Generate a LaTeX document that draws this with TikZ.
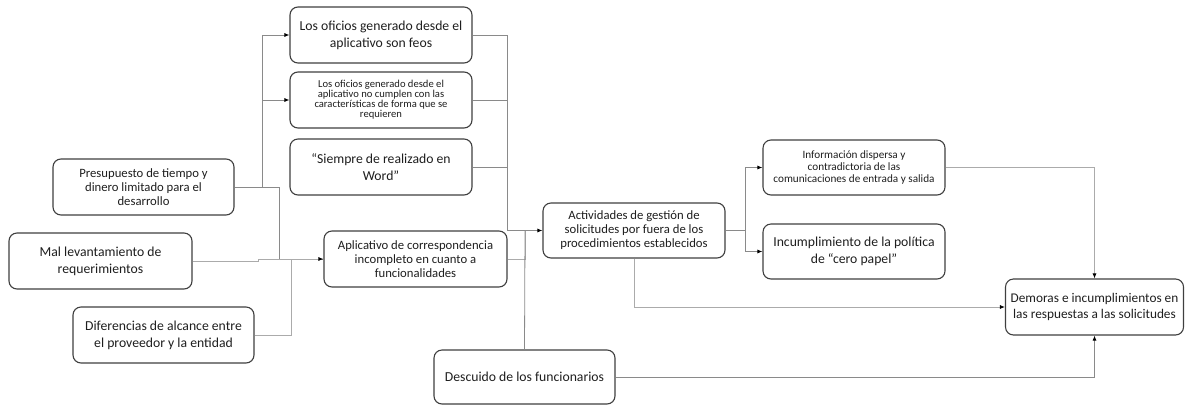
\documentclass[tikz,border=0pt]{standalone}
\usepackage{fontspec}
\setmainfont{Carlito}
\usetikzlibrary{arrows.meta,calc}
\definecolor{boxc}{HTML}{3F3F3F}
\definecolor{linec}{HTML}{8A8A8A}
\definecolor{linel}{HTML}{ABABAB}
\definecolor{txt}{HTML}{1E1E1E}
\tikzset{
  box/.style={draw=boxc, rounded corners=8pt, line width=1.1pt, minimum width=182pt,
    minimum height=56pt, inner sep=0pt, align=center, text=txt},
  big/.style={font=\fontsize{13.7}{17}\selectfont},
  mid/.style={font=\fontsize{12.7}{14}\selectfont},
  conn/.style={draw=linec, line width=0.8pt},
  connl/.style={draw=linel, line width=0.8pt},
  arr/.style={-{Latex[length=5pt,width=4pt,color=black]}},
}
\begin{document}
\begin{tikzpicture}[x=1pt,y=-1pt]
\useasboundingbox (0,0) rectangle (1185,405);
% nodes
\node[box,big] (A) at (381,35) {Los oficios generado desde el\\aplicativo son feos};
\node[box,font=\fontsize{10.6}{10}\selectfont] (B) at (381,100) {Los oficios generado desde el\\aplicativo no cumplen con las\\características de forma que se\\requieren};
\node[box,big] (C) at (381,167) {“Siempre de realizado en\\Word”};
\node[box,mid,minimum width=181pt] (P) at (143.5,187) {Presupuesto de tiempo y\\dinero limitado para el\\desarrollo};
\node[box,big,minimum width=183pt] (M) at (100.5,261) {Mal levantamiento de\\requerimientos};
\node[box,big,minimum width=181pt] (D) at (163.5,335) {Diferencias de alcance entre\\el proveedor y la entidad};
\node[box,mid,minimum width=183pt] (Ap) at (415.5,259) {Aplicativo de correspondencia\\incompleto en cuanto a\\funcionalidades};
\node[box,mid,minimum height=55pt] (Act) at (634,230.5) {Actividades de gestión de\\solicitudes por fuera de los\\procedimientos establecidos};
\node[box,big,minimum width=181pt,minimum height=54pt] (Desc) at (524.5,377) {Descuido de los funcionarios};
\node[box,font=\fontsize{11.2}{12}\selectfont,minimum height=55pt] (Info) at (854,167.5) {Información dispersa y\\contradictoria de las\\comunicaciones de entrada y salida};
\node[box,big,minimum height=55pt] (Inc) at (854,251.5) {Incumplimiento de la política\\de “cero papel”};
\node[box,font=\fontsize{13.3}{15.3}\selectfont,minimum width=178pt] (Dem) at (1094.5,307) {Demoras e incumplimientos en\\las respuestas a las solicitudes};
% junctions
\coordinate (jP1) at (262,187);
\coordinate (jP2) at (279,187);
\coordinate (jM) at (258,261);
\coordinate (jD) at (291,259);
\coordinate (jA) at (507,230.5);
\coordinate (jAct) at (525,230.5);
\coordinate (jR) at (745,230.5);
% left group
\draw[conn] (P.east) -- (jP2) |- (Ap.west);
\draw[conn,arr] (jP1) |- (A.west);
\draw[conn,arr] (jP1) |- (B.west);
\draw[connl,arr] (M.east) -- (jM) |- (Ap.west);
\draw[connl] (D.east) -| (jD);
% middle group
\draw[conn] (A.east) -| (jA);
\draw[conn] (B.east) -| (jA);
\draw[conn] (C.east) -| (jA);
\draw[conn,arr] (jA) -- (Act.west);
\draw[connl] (Ap.east) -| (jAct);
\draw[conn] (Desc.north) -- (jAct);
% right group
\draw[conn] (Act.east) -- (jR);
\draw[conn,arr] (jR) |- (Info.west);
\draw[conn,arr] (jR) |- (Inc.west);
\draw[connl,arr] (Act.south) |- (Dem.west);
\draw[connl,arr] (Info.east) -| (Dem.north);
\draw[conn,arr] (Desc.east) -| (Dem.south);
\end{tikzpicture}
\end{document}
